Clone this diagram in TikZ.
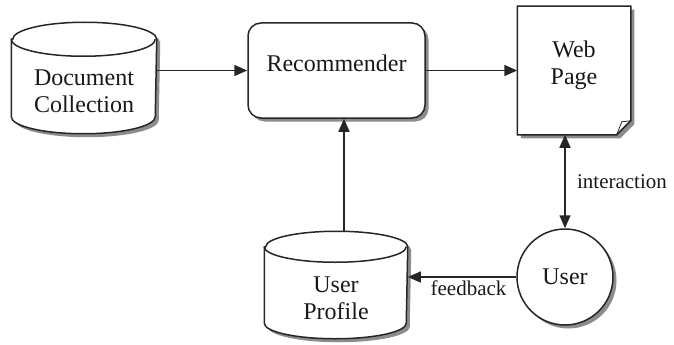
\documentclass[tikz,border=0pt]{standalone}
\usepackage{fontspec}
\setmainfont{Liberation Serif}
\usetikzlibrary{arrows.meta,shadows,backgrounds,positioning}

% outline of a database drum round node #1 (half width #2, end radius #3)
\newcommand{\drum}[3]{%
  \draw[outline, fill=white, shadowed] ([yshift=-#3pt]#1.north west) -- ([yshift=#3pt]#1.south west)
    arc[start angle=180, end angle=360, x radius=#2pt, y radius=#3pt]
    -- ([yshift=-#3pt]#1.north east)
    arc[start angle=0, end angle=180, x radius=#2pt, y radius=#3pt] -- cycle;
  \draw[outline] ([yshift=-#3pt]#1.north west) arc[start angle=180, end angle=360, x radius=#2pt, y radius=#3pt];}

\begin{document}
\begin{tikzpicture}[x=1pt,y=1pt,>={Triangle[length=13pt,width=11pt]},
    line width=1.5pt, draw=black!85,
    outline/.style={line width=1.5pt, draw=black!85},
    shadowed/.style={drop shadow={shadow xshift=3.5pt,shadow yshift=-3.5pt,fill=black!45,opacity=1}},
    every label/.style={font=\fontsize{24}{27}\selectfont, align=center, text=black!90},
    tag/.style={font=\fontsize{21}{24}\selectfont, text=black!90}]
  \useasboundingbox (0,-345) rectangle (674,0);

  \node[minimum width=144pt, minimum height=110pt,
        label={[yshift=-13pt]center:Document\\Collection}] (doc) at (84,-78) {};
  \node[draw, fill=white, shadowed, rounded corners=13pt, minimum width=177pt, minimum height=95pt,
        label={[yshift=7pt]center:Recommender}] (rec) at (336.5,-70.5) {};
  \node[minimum width=112pt, minimum height=127pt,
        label={[yshift=5pt]center:Web\\Page}] (web) at (574,-70.5) {};
  \node[circle, draw, fill=white, shadowed, minimum size=96pt, label=center:User] (user) at (565,-277) {};
  \node[minimum width=142pt, minimum height=106pt,
        label={[yshift=-13pt]center:User\\Profile}] (prof) at (336,-285) {};

  \begin{scope}[on background layer]
    \drum{doc}{72}{17}
    \drum{prof}{71}{15.5}
    % page with folded corner
    \draw[outline, fill=white, shadowed] (web.north west) -- (web.north east) -- ([yshift=14pt]web.south east)
      -- ([xshift=-14pt]web.south east) -- (web.south west) -- cycle;
  \end{scope}
  \draw[line width=0.8pt] ([yshift=14pt]web.south east) -- ([xshift=-9pt,yshift=13pt]web.south east)
    -- ([xshift=-14pt]web.south east);

  \draw[->] (doc.east |- rec.west) -- (rec.west);
  \draw[->] (rec.east) -- (web.west);
  \draw[->] ([xshift=8pt]prof.north) -- ([xshift=8pt]prof.north |- rec.south);
  \draw[<->] (user.north |- web.south) -- (user.north) node[tag, midway, right=8pt] {interaction};
  \draw[->] (user.west) -- (user.west -| prof.east) node[tag, pos=0.44, below=0pt] {feedback};
\end{tikzpicture}
\end{document}
